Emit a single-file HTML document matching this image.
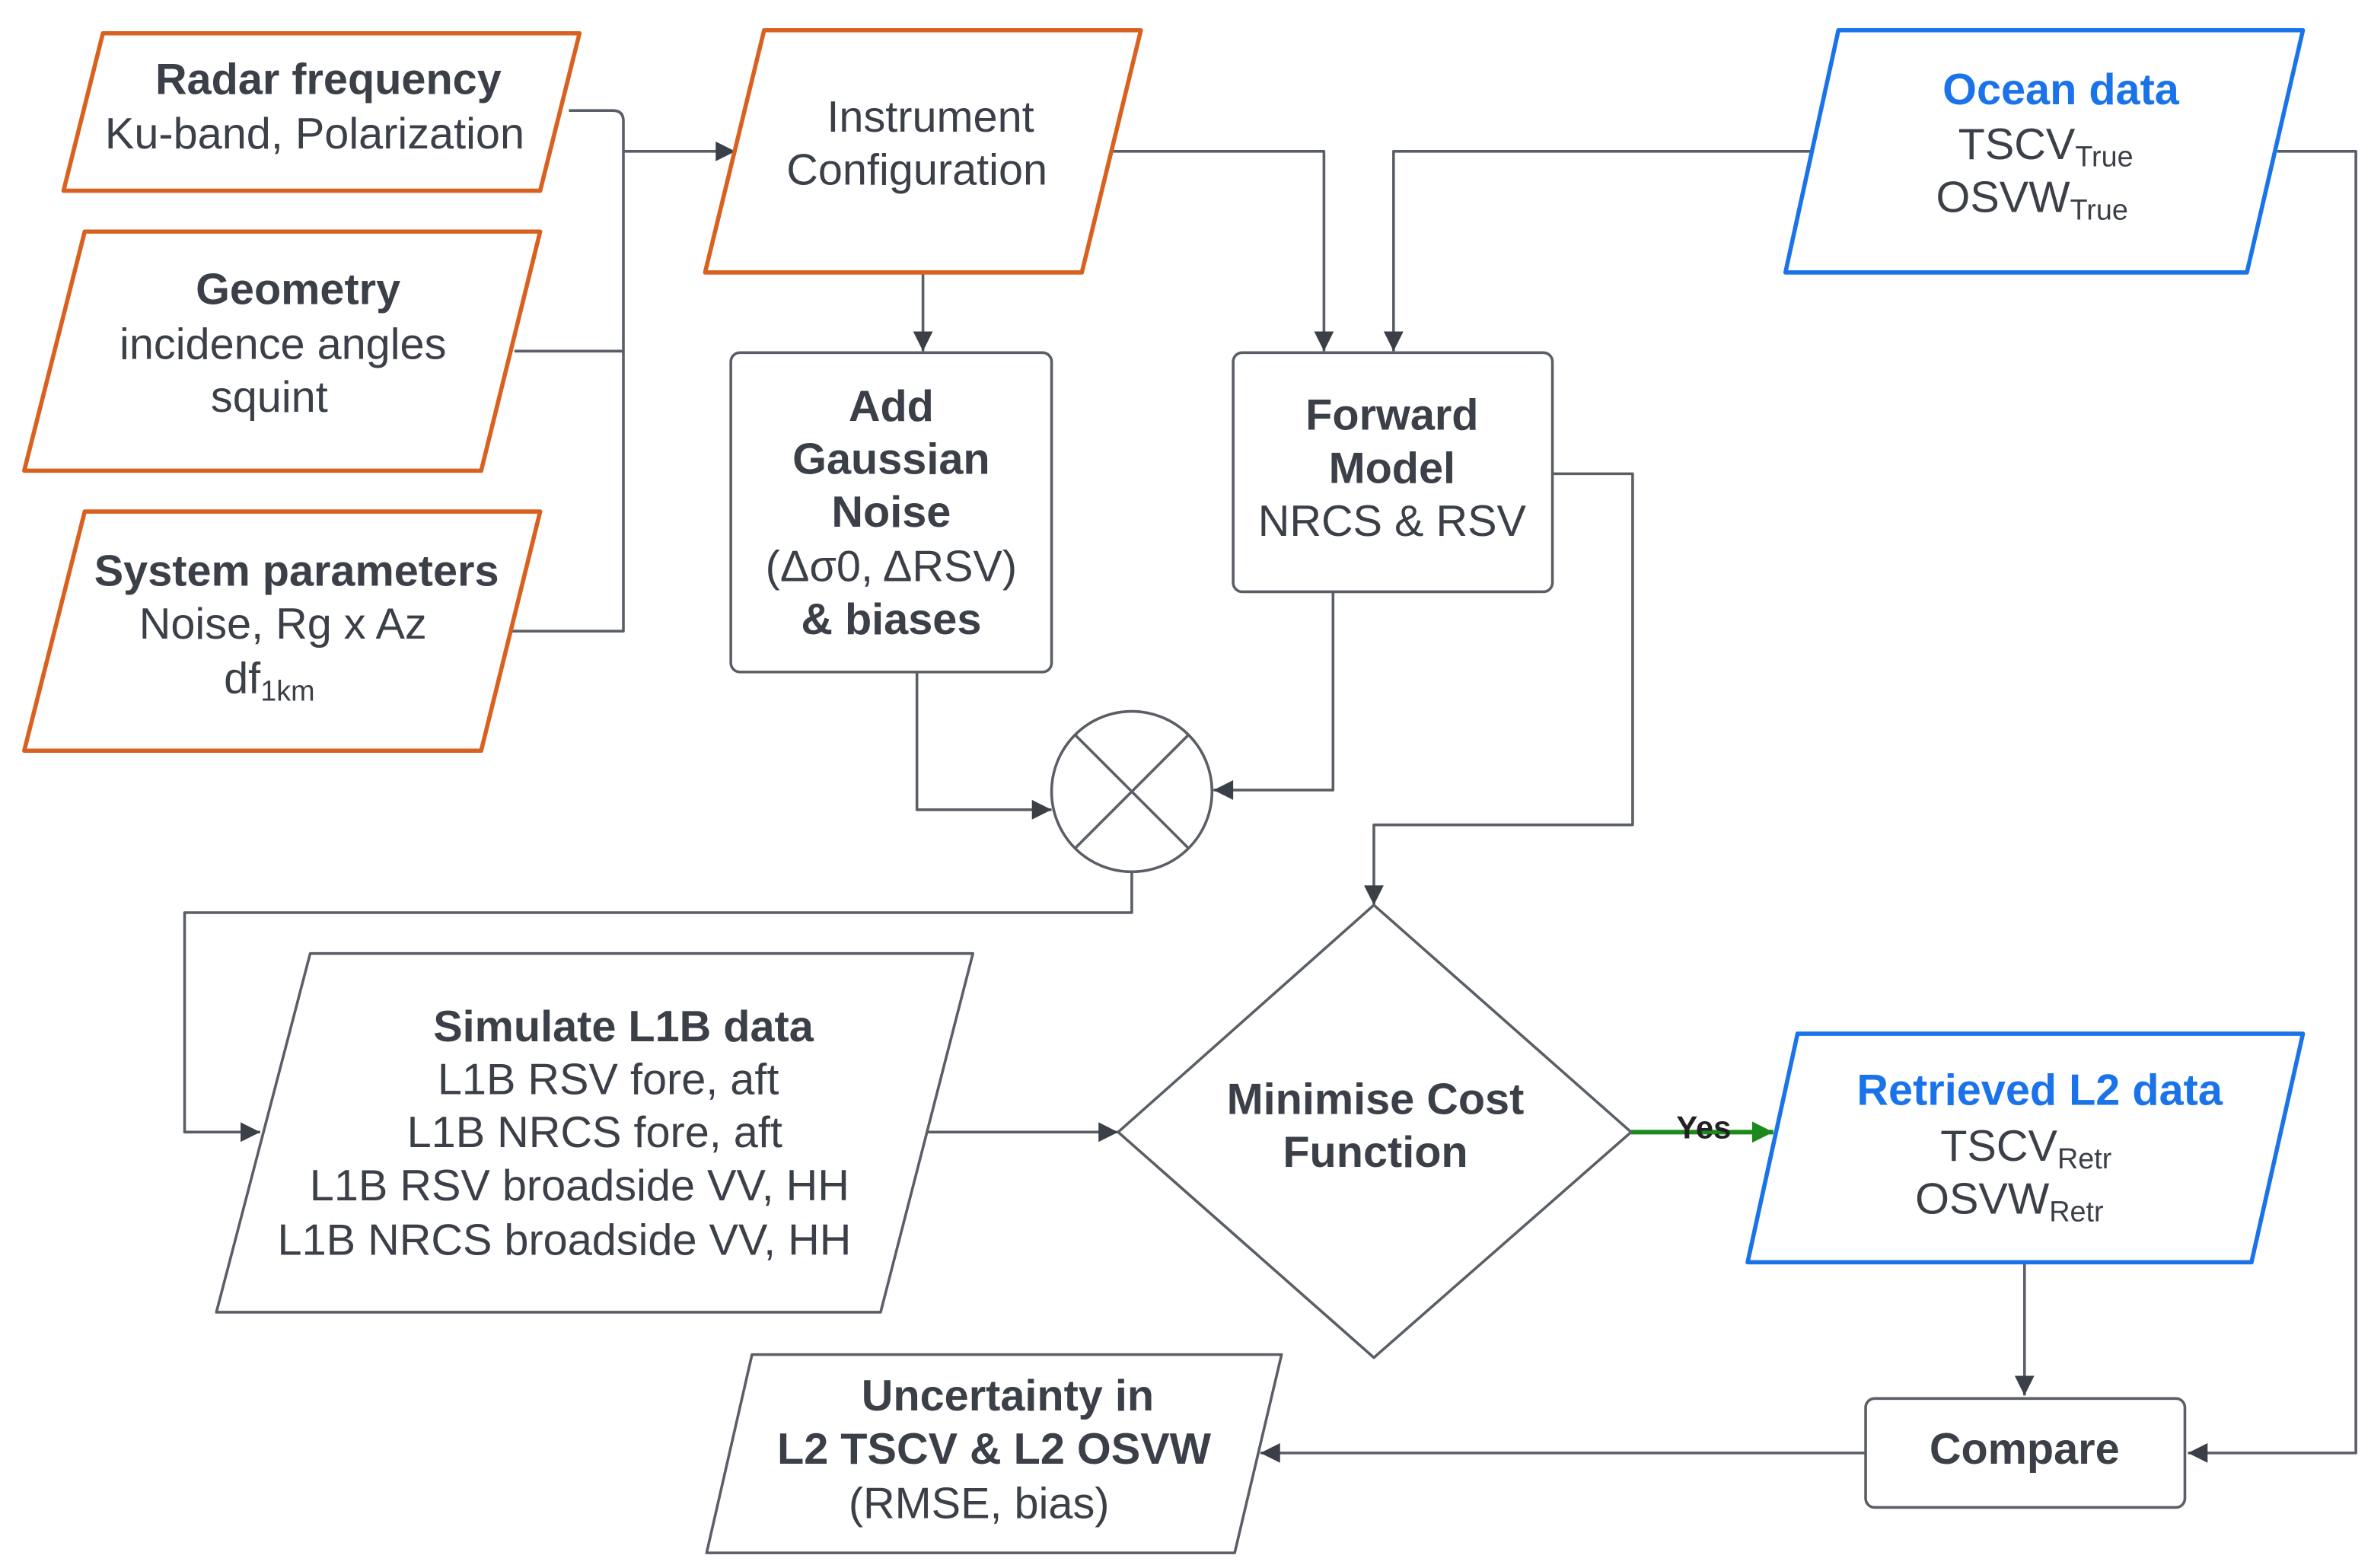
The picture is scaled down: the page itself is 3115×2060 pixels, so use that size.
<!DOCTYPE html>
<html><head><meta charset="utf-8"><style>
html,body{margin:0;padding:0;background:#fff;}
svg{display:block;}
text{font-family:"Liberation Sans",Arial,sans-serif;font-size:29px;fill:#3b3f48;text-anchor:middle;}
.b{font-weight:bold;}
.bl{fill:#1a73e8;font-weight:bold;}
.sub{font-size:19px;}
.o{fill:#fff;stroke:#d9611f;stroke-width:2.8;stroke-linejoin:round;}
.u{fill:#fff;stroke:#1a73e8;stroke-width:2.8;stroke-linejoin:round;}
.g{fill:#fff;stroke:#5a5e66;stroke-width:1.8;stroke-linejoin:round;}
.c{fill:none;stroke:#5a5e66;stroke-width:1.8;stroke-linejoin:round;}
</style></head><body>
<svg width="3115" height="2060" viewBox="0 0 1567 1036" preserveAspectRatio="none" xmlns="http://www.w3.org/2000/svg">
<defs>
<marker id="a" viewBox="0 0 10 10" refX="10" refY="5" markerWidth="16" markerHeight="13" markerUnits="userSpaceOnUse" orient="auto"><path d="M0,0 L10,5 L0,10 z" fill="#3b3f48"/></marker>
<marker id="ag" viewBox="0 0 10 10" refX="10" refY="5" markerWidth="18" markerHeight="14" markerUnits="userSpaceOnUse" orient="auto"><path d="M0,0 L10,5 L0,10 z" fill="#1a8a1a"/></marker>
</defs>
<path class="c" d="M376,73 H405 Q412,73 412,80 V417 H338"/>
<path class="c" d="M340,232 H412"/>
<path class="c" d="M412,100 H486" marker-end="url(#a)"/>
<path class="c" d="M610,180 V232" marker-end="url(#a)"/>
<path class="c" d="M735,100 H875 V232" marker-end="url(#a)"/>
<path class="c" d="M1200,100 H921 V232" marker-end="url(#a)"/>
<path class="c" d="M1505,100 H1557 V960 H1446" marker-end="url(#a)"/>
<path class="c" d="M1026,313 H1079 V545 H908 V598" marker-end="url(#a)"/>
<path class="c" d="M881,391 V522 H802" marker-end="url(#a)"/>
<path class="c" d="M606,444 V535 H695" marker-end="url(#a)"/>
<path class="c" d="M748,576 V603 H122 V748 H172" marker-end="url(#a)"/>
<path class="c" d="M613,748 H739" marker-end="url(#a)"/>
<path d="M1078,748 H1172" stroke="#1a8a1a" stroke-width="3" fill="none" marker-end="url(#ag)"/>
<path class="c" d="M1338,834 V922" marker-end="url(#a)"/>
<path class="c" d="M1233,960 H833" marker-end="url(#a)"/>
<polygon class="o" points="68,22 383,22 357,126 42,126"/>
<text class="b" x="217" y="62">Radar frequency</text>
<text x="208" y="98">Ku-band, Polarization</text>
<polygon class="o" points="56,153 357,153 318,311 16,311"/>
<text class="b" x="197" y="201">Geometry</text>
<text x="187" y="237">incidence angles</text>
<text x="178" y="272">squint</text>
<polygon class="o" points="56,338 357,338 318,496 16,496"/>
<text class="b" x="196" y="387">System parameters</text>
<text x="187" y="422">Noise, Rg x Az</text>
<text x="178" y="458">df<tspan class="sub" dy="5">1km</tspan></text>
<polygon class="o" points="505,20 754,20 715,180 466,180"/>
<text x="615" y="87">Instrument</text>
<text x="606" y="122">Configuration</text>
<polygon class="u" points="1215,20 1522,20 1485,180 1180,180"/>
<text class="bl" x="1362" y="69">Ocean data</text>
<text x="1352" y="105">TSCV<tspan class="sub" dy="5">True</tspan></text>
<text x="1343" y="140">OSVW<tspan class="sub" dy="5">True</tspan></text>
<polygon class="u" points="1188,683 1522,683 1488,834 1155,834"/>
<text class="bl" x="1348" y="730">Retrieved L2 data</text>
<text x="1339" y="767">TSCV<tspan class="sub" dy="5">Retr</tspan></text>
<text x="1328" y="802">OSVW<tspan class="sub" dy="5">Retr</tspan></text>
<rect class="g" x="483" y="233" width="212" height="211" rx="6"/>
<text class="b" x="589" y="278">Add</text>
<text class="b" x="589" y="313">Gaussian</text>
<text class="b" x="589" y="348">Noise</text>
<text x="589" y="384">(Δσ0, ΔRSV)</text>
<text class="b" x="589" y="419">&amp; biases</text>
<rect class="g" x="815" y="233" width="211" height="158" rx="6"/>
<text class="b" x="920" y="284">Forward</text>
<text class="b" x="920" y="319">Model</text>
<text x="920" y="354">NRCS &amp; RSV</text>
<circle class="g" cx="748" cy="523" r="53"/>
<path class="c" d="M711,486 L785,560 M785,486 L711,560"/>
<polygon class="g" points="908,598 1078,748 908,897 739,748"/>
<text class="b" x="909" y="736">Minimise Cost</text>
<text class="b" x="909" y="771">Function</text>
<polygon class="g" points="205,630 643,630 582,867 143,867"/>
<text class="b" x="412" y="688">Simulate L1B data</text>
<text x="402" y="723">L1B RSV fore, aft</text>
<text x="393" y="758">L1B NRCS fore, aft</text>
<text x="383" y="793">L1B RSV broadside VV, HH</text>
<text x="373" y="829">L1B NRCS broadside VV, HH</text>
<rect class="g" x="1233" y="924" width="211" height="72" rx="6"/>
<text class="b" x="1338" y="967">Compare</text>
<polygon class="g" points="497,895 847,895 816,1026 467,1026"/>
<text class="b" x="666" y="932">Uncertainty in</text>
<text class="b" x="657" y="967">L2 TSCV &amp; L2 OSVW</text>
<text x="647" y="1003">(RMSE, bias)</text>
<text class="b" x="1126" y="752" style="font-size:21px;fill:#222">Yes</text>
</svg>
</body></html>
